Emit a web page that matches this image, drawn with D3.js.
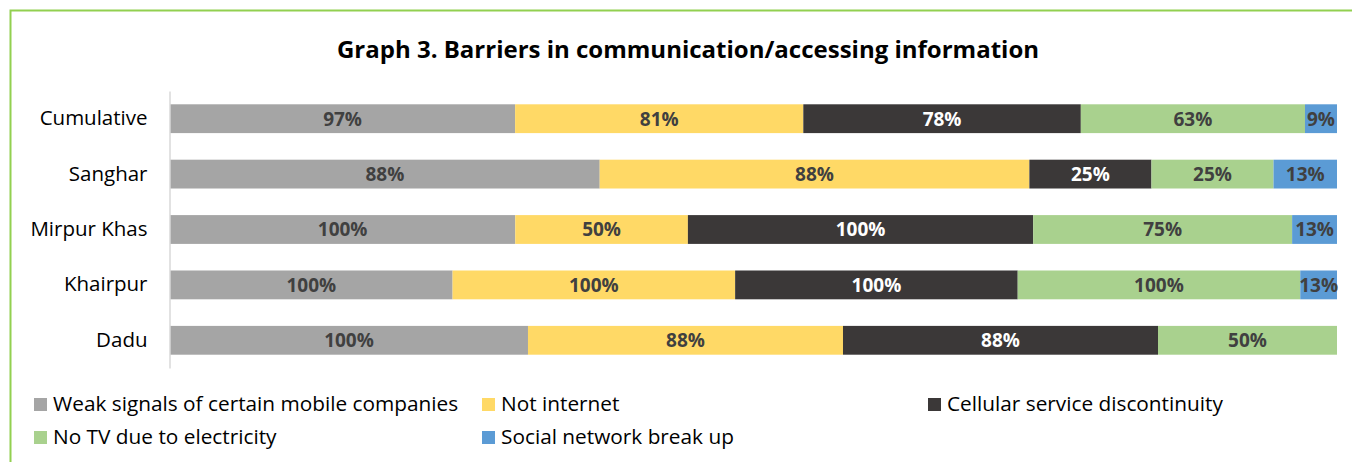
<!DOCTYPE html>
<html>
<head>
<meta charset="utf-8">
<script src="https://cdn.jsdelivr.net/npm/d3@7"></script>
<style>
  html, body { margin: 0; padding: 0; background: #fff; }
  svg { display: block; }
</style>
</head>
<body>
<svg id="chart" width="1352" height="462"></svg>
<script>
// Regions, top to bottom
const categories = ["Cumulative", "Sanghar", "Mirpur Khas", "Khairpur", "Dadu"];

// Barrier series (percent of respondents per region)
const seriesNames = [
  "Weak signals of certain mobile companies",
  "Not internet",
  "Cellular service discontinuity",
  "No TV due to electricity",
  "Social network break up"
];
const weakSignals   = [97, 88, 100, 100, 100];
const notInternet   = [81, 88, 50, 100, 88];
const cellularDisc  = [78, 25, 100, 100, 88];
const noTV          = [63, 25, 75, 100, 50];
const socialBreakup = [9, 13, 13, 13, 0];

const seriesValues = [weakSignals, notInternet, cellularDisc, noTV, socialBreakup];
const colors = ["#A5A5A5", "#FFD966", "#3B3838", "#A9D18E", "#5B9BD5"];
const labelColors = ["#404040", "#404040", "#FFFFFF", "#404040", "#404040"];

const svg = d3.select("#chart");
const font = "'Open Sans', 'Liberation Sans', sans-serif";

// Frame
svg.append("rect")
  .attr("x", 10.5).attr("y", 10.5)
  .attr("width", 1360).attr("height", 470)
  .attr("fill", "#fff")
  .attr("stroke", "#92D050").attr("stroke-width", 2);

// Title
svg.append("text")
  .attr("x", 688).attr("y", 58)
  .attr("text-anchor", "middle")
  .attr("font-family", font)
  .attr("font-weight", "bold")
  .attr("font-size", 24)
  .attr("fill", "#000")
  .text("Graph 3. Barriers in communication/accessing information");

// Build rows with each region's stacked shares
const rows = categories.map((c, i) => {
  const vals = seriesValues.map(s => s[i]);
  const total = d3.sum(vals);
  const row = { category: c, total };
  seriesNames.forEach((n, k) => { row[n] = vals[k]; });
  return row;
});

const x = d3.scaleLinear().domain([0, 1]).range([170, 1337]);
const y = d3.scaleBand().domain(categories).range([91, 368]).paddingInner(0.48).paddingOuter(0.24);

const stack = d3.stack()
  .keys(seriesNames)
  .value((d, key) => d[key] / d.total);
const layers = stack(rows);

const g = svg.append("g");
layers.forEach((layer, k) => {
  const lg = g.append("g");
  lg.selectAll("rect")
    .data(layer.filter(d => d.data[seriesNames[k]] > 0))
    .join("rect")
    .attr("x", d => x(d[0]))
    .attr("y", d => y(d.data.category))
    .attr("width", d => x(d[1]) - x(d[0]))
    .attr("height", y.bandwidth())
    .attr("fill", colors[k]);
});

// Value labels
layers.forEach((layer, k) => {
  g.append("g").selectAll("text")
    .data(layer.filter(d => d.data[seriesNames[k]] > 0))
    .join("text")
    .attr("x", d => (x(d[0]) + x(d[1])) / 2)
    .attr("y", d => y(d.data.category) + y.bandwidth() / 2)
    .attr("dy", "0.36em")
    .attr("text-anchor", "middle")
    .attr("font-family", font)
    .attr("font-weight", "bold")
    .attr("font-size", 19)
    .attr("fill", labelColors[k])
    .text(d => d.data[seriesNames[k]] + "%");
});

// Category axis
const yAxis = d3.axisLeft(y).tickSize(0).tickPadding(22);
const ax = svg.append("g").attr("transform", "translate(169.5,0)").call(yAxis);
ax.select(".domain").attr("stroke", "#D9D9D9").attr("stroke-width", 1.5);
ax.selectAll("text")
  .attr("font-family", font)
  .attr("font-size", 20.5)
  .attr("fill", "#000");

// Legend
const legendPos = [
  [34, 404], [482, 404], [928, 404],
  [34, 437], [482, 437]
];
const lg = svg.append("g");
seriesNames.forEach((n, k) => {
  const [lx, ly] = legendPos[k];
  lg.append("rect")
    .attr("x", lx).attr("y", ly - 6)
    .attr("width", 13).attr("height", 13)
    .attr("fill", colors[k]);
  lg.append("text")
    .attr("x", lx + 19).attr("y", ly)
    .attr("dy", "0.36em")
    .attr("font-family", font)
    .attr("font-size", 20.8)
    .attr("fill", "#000")
    .text(n);
});
</script>
</body>
</html>
